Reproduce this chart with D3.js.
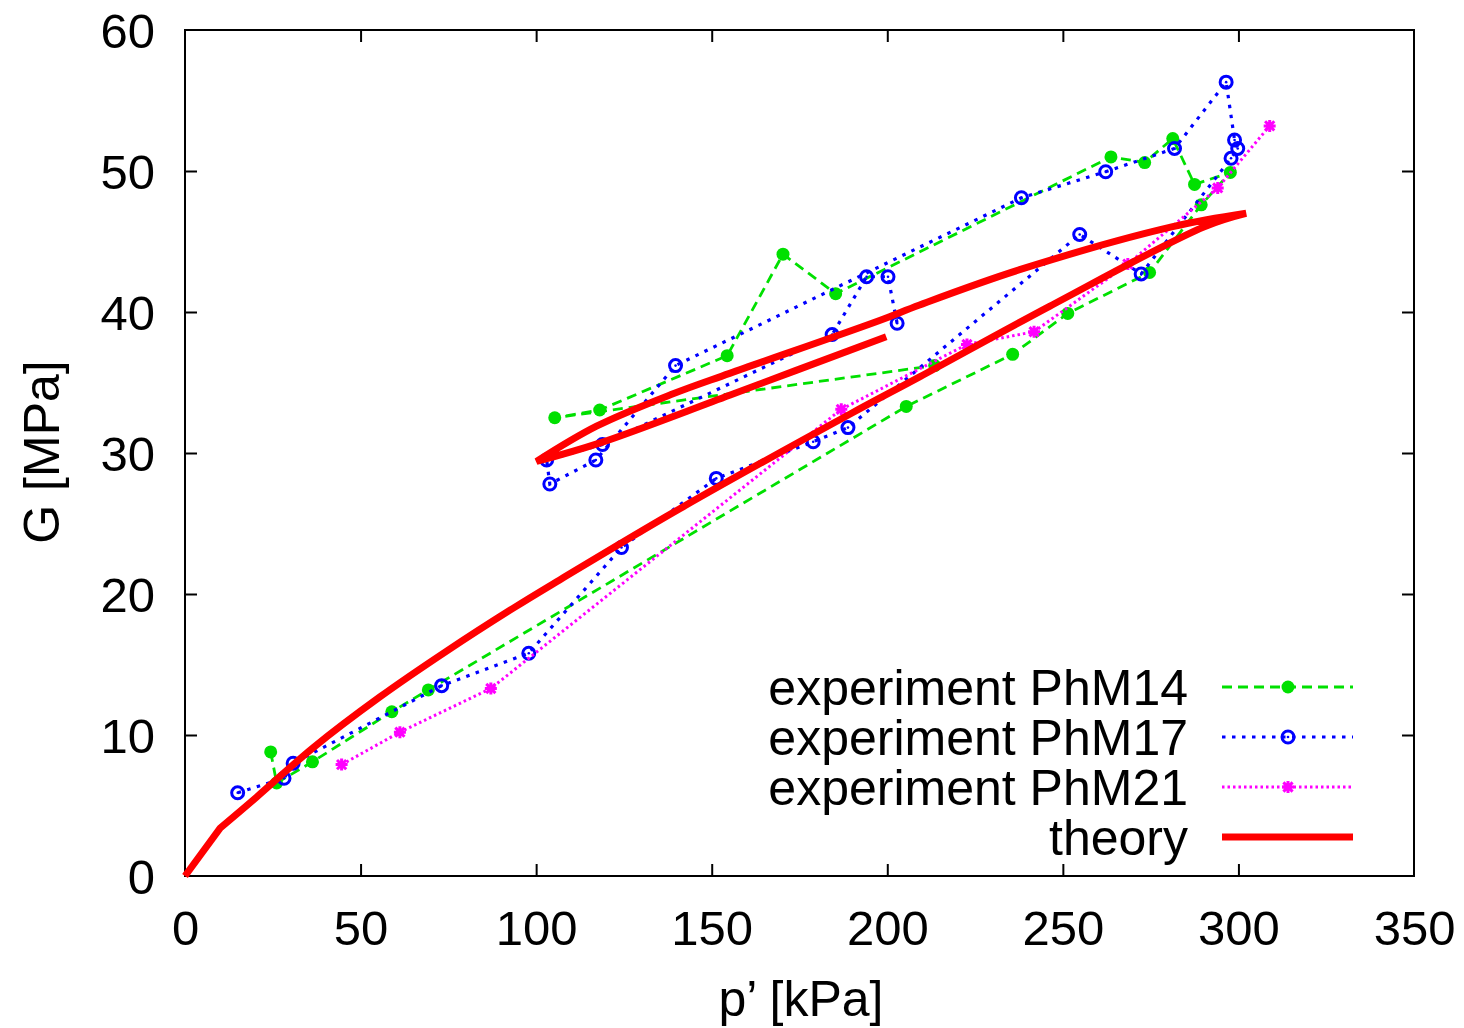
<!DOCTYPE html>
<html><head><meta charset="utf-8">
<script src="https://cdn.jsdelivr.net/npm/d3@7"></script>
<style>
html,body{margin:0;padding:0;background:#fff;}
svg text{font-family:"Liberation Sans",Arial,sans-serif;fill:#000;}
</style></head>
<body>
<script>
// ---- data ----
const xTicks = [0, 50, 100, 150, 200, 250, 300, 350];
const yTicks = [0, 10, 20, 30, 40, 50, 60];

const phm14P = [24.4, 26.1, 36.3, 58.9, 69.3, 205.4, 235.7, 251.4, 274.7, 289.4, 297.7, 287.5, 281.3, 273.3, 263.7, 185.3, 170.3, 154.4, 118.1, 105.3, 213.5];
const phm14G = [8.8, 6.6, 8.1, 11.65, 13.2, 33.3, 37.0, 39.9, 42.8, 47.6, 49.9, 49.05, 52.3, 50.6, 51.0, 41.3, 44.1, 36.9, 33.05, 32.5, 36.2];

const phm17P = [15.0, 28.2, 30.8, 73.1, 97.9, 124.3, 151.3, 178.9, 188.8, 254.8, 272.3, 297.9, 299.8, 298.9, 296.5, 281.8, 262.2, 238.2, 139.7, 117.0, 103.9, 103.0, 118.9, 184.3, 194.1, 200.2, 202.8];
const phm17G = [5.9, 6.93, 8.0, 13.5, 15.8, 23.3, 28.2, 30.8, 31.8, 45.5, 42.7, 50.9, 51.6, 52.2, 56.3, 51.6, 49.95, 48.1, 36.2, 29.5, 27.8, 29.5, 30.6, 38.4, 42.5, 42.5, 39.2];

const phm21P = [44.6, 61.2, 87.1, 186.9, 222.7, 241.8, 268.5, 294.1, 308.9];
const phm21G = [7.9, 10.2, 13.3, 33.1, 37.7, 38.6, 43.4, 48.8, 53.2];

// theory: loading (0..13), unloading (13..21), reloading (21..24)
const theoryP = [0, 10, 20.4, 36.5, 55.5, 74.5, 93.5, 106.7, 140.9, 189.3, 209.2, 246.2, 290.3, 302.2, 281.3, 237.7, 209.2, 197.8, 155.1, 139.0, 117.2, 100.1, 118.0, 155.1, 199.7];
const theoryG = [0, 3.4, 5.6, 9.1, 12.7, 15.95, 19.0, 21.0, 26.05, 32.75, 35.4, 40.4, 46.05, 47.0, 46.05, 43.0, 40.5, 39.4, 35.65, 34.2, 31.9, 29.4, 30.7, 34.1, 38.25];
const theoryBranches = [[0, 1], [1, 13], [13, 21], [21, 24]];

const legendLabels = ["experiment PhM14", "experiment PhM17", "experiment PhM21", "theory"];

// ---- chart ----
const W = 1464, H = 1028;
const L = 185, R = 1414, T = 30, B = 876;
const svg = d3.select("body").append("svg").attr("width", W).attr("height", H);

const x = d3.scaleLinear().domain([0, 350]).range([L, R]);
const y = d3.scaleLinear().domain([0, 60]).range([B, T]);

const FS = 49, FL = 50;
svg.append("rect").attr("x", L).attr("y", T).attr("width", R - L).attr("height", B - T)
  .attr("fill", "none").attr("stroke", "#000").attr("stroke-width", 2);

const tl = 12;
const axB = svg.append("g").attr("transform", `translate(0,${B})`)
  .call(d3.axisBottom(x).tickValues(xTicks).tickSize(-tl).tickPadding(0).tickFormat(d3.format("d")));
const axT = svg.append("g").attr("transform", `translate(0,${T})`)
  .call(d3.axisTop(x).tickValues(xTicks).tickSize(-tl).tickFormat(""));
const axL = svg.append("g").attr("transform", `translate(${L},0)`)
  .call(d3.axisLeft(y).tickValues(yTicks).tickSize(-tl).tickPadding(0).tickFormat(d3.format("d")));
const axR = svg.append("g").attr("transform", `translate(${R},0)`)
  .call(d3.axisRight(y).tickValues(yTicks).tickSize(-tl).tickFormat(""));
[axB, axT, axL, axR].forEach(a => {
  a.select(".domain").remove();
  a.selectAll(".tick line").attr("stroke", "#000").attr("stroke-width", 2);
  a.selectAll("text").attr("font-size", FS).attr("font-family", "Liberation Sans, Arial, sans-serif").attr("fill", "#000");
});
axB.selectAll(".tick text").attr("y", 34).attr("dy", "0.71em");
axL.selectAll(".tick text").attr("x", -30).attr("dy", "0.35em");
axB.selectAll(".tick line").filter(d => d === 0 || d === 350).remove();
axT.selectAll(".tick line").filter(d => d === 0 || d === 350).remove();
axL.selectAll(".tick line").filter(d => d === 0 || d === 60).remove();
axR.selectAll(".tick line").filter(d => d === 0 || d === 60).remove();

svg.append("text").attr("x", 801).attr("y", 1016).attr("text-anchor", "middle").attr("font-size", FL).text("p’ [kPa]");
svg.append("text").attr("transform", `translate(59,452) rotate(-90)`).attr("text-anchor", "middle").attr("font-size", FL).text("G [MPa]");

const line = d3.line().x(d => x(d[0])).y(d => y(d[1]));
const curve = d3.line().x(d => x(d[0])).y(d => y(d[1])).curve(d3.curveCatmullRom.alpha(0.5));
const zip = (a, b) => a.map((v, i) => [v, b[i]]);

const GREEN = "#00e000", BLUE = "#0000ff", MAG = "#ff00ff", RED = "#ff0000";

const series = [
  {data: zip(phm14P, phm14G), color: GREEN, dash: "10,6", w: 2.8, marker: "dot"},
  {data: zip(phm17P, phm17G), color: BLUE, dash: "3.5,6.5", w: 3.2, marker: "circle"},
  {data: zip(phm21P, phm21G), color: MAG, dash: "2.5,3", w: 3, marker: "star"},
];

function drawMarker(g, type, cx, cy, color) {
  if (type === "dot") {
    g.append("circle").attr("cx", cx).attr("cy", cy).attr("r", 6.5).attr("fill", color);
  } else if (type === "circle") {
    g.append("circle").attr("cx", cx).attr("cy", cy).attr("r", 6).attr("fill", "none").attr("stroke", color).attr("stroke-width", 3);
    g.append("circle").attr("cx", cx).attr("cy", cy).attr("r", 1.3).attr("fill", color);
  } else if (type === "star") {
    const s = 6, d = 4.6;
    const p = `M${cx - s},${cy}L${cx + s},${cy}M${cx},${cy - s}L${cx},${cy + s}` +
      `M${cx - d},${cy - d}L${cx + d},${cy + d}M${cx - d},${cy + d}L${cx + d},${cy - d}`;
    g.append("path").attr("d", p).attr("stroke", color).attr("stroke-width", 3).attr("fill", "none");
  }
}

series.forEach(s => {
  svg.append("path").datum(s.data).attr("d", line).attr("fill", "none")
    .attr("stroke", s.color).attr("stroke-width", s.w).attr("stroke-dasharray", s.dash);
  const g = svg.append("g");
  s.data.forEach(d => drawMarker(g, s.marker, x(d[0]), y(d[1]), s.color));
});

// theory: one continuous path, each branch smoothed
const th = zip(theoryP, theoryG);
let dStr = "";
theoryBranches.forEach(([a, b], i) => {
  const seg = th.slice(a, b + 1);
  let d = (seg.length > 2 ? curve : line)(seg);
  if (i > 0) d = "L" + d.slice(1);
  dStr += d;
});
svg.append("path").attr("d", dStr).attr("fill", "none")
  .attr("stroke", RED).attr("stroke-width", 7).attr("stroke-linejoin", "miter").attr("stroke-miterlimit", 4);

// legend
const legY = [687, 737, 787, 837];
const lx0 = 1222, lx1 = 1353, lxm = 1288;
legendLabels.forEach((lab, i) => {
  svg.append("text").attr("x", 1188).attr("y", legY[i]).attr("dy", "0.35em")
    .attr("text-anchor", "end").attr("font-size", FL).text(lab);
  if (i < 3) {
    const s = series[i];
    svg.append("line").attr("x1", lx0).attr("x2", lx1).attr("y1", legY[i]).attr("y2", legY[i])
      .attr("stroke", s.color).attr("stroke-width", s.w).attr("stroke-dasharray", s.dash);
    drawMarker(svg, s.marker, lxm, legY[i], s.color);
  } else {
    svg.append("line").attr("x1", lx0).attr("x2", lx1).attr("y1", legY[i]).attr("y2", legY[i])
      .attr("stroke", RED).attr("stroke-width", 7);
  }
});
</script>
</body></html>
